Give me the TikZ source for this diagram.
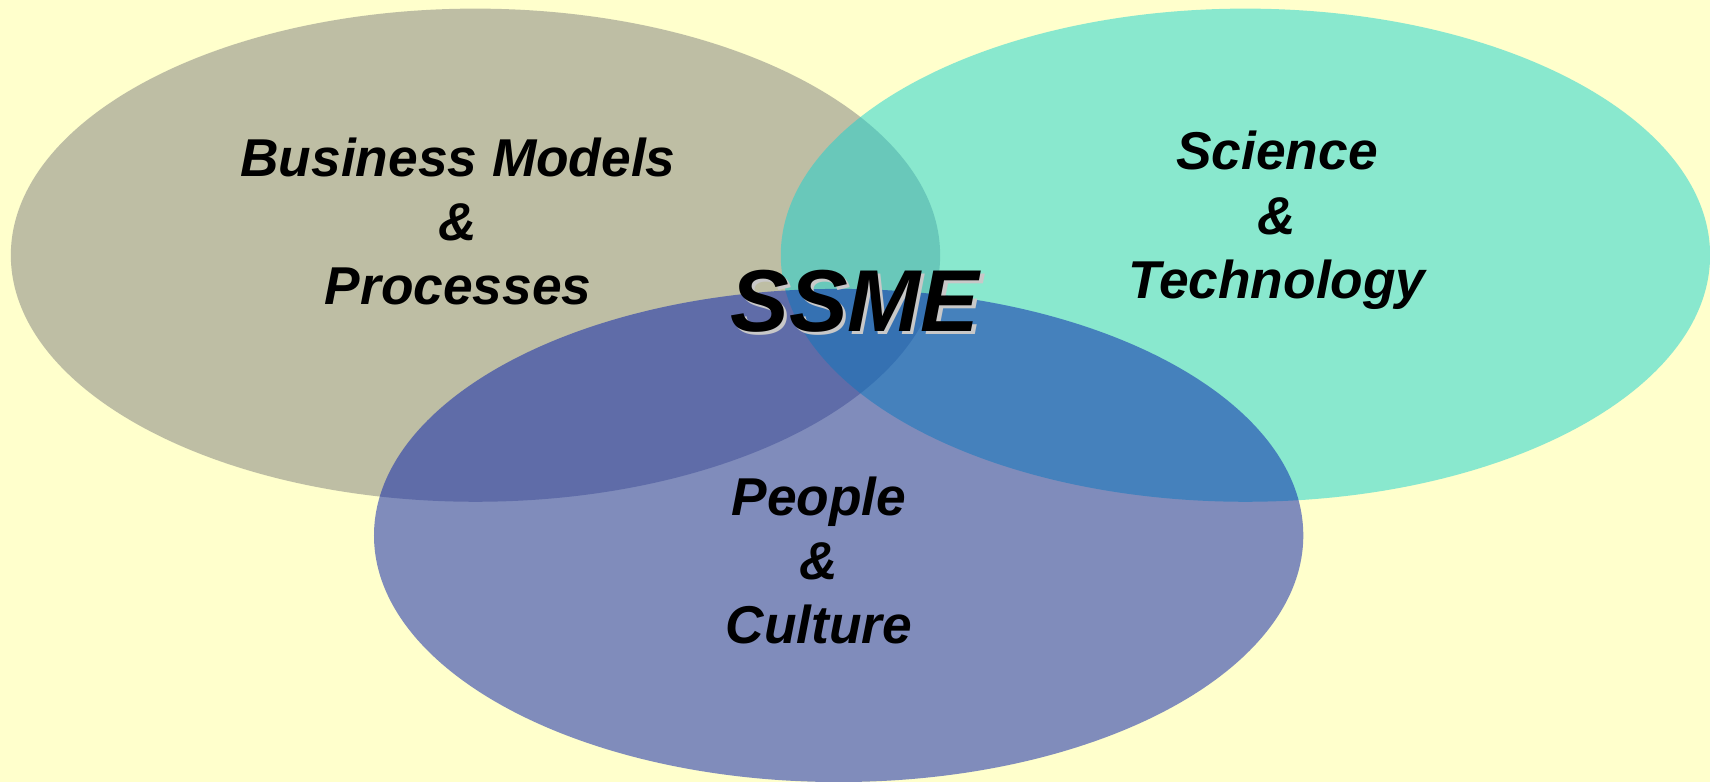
\documentclass[tikz,border=0pt]{standalone}
\usepackage{fontspec}
\setmainfont{Liberation Sans}
\usetikzlibrary{shapes.geometric,positioning}
\definecolor{paper}{RGB}{255,255,204}
\definecolor{business}{RGB}{127,127,126}
\definecolor{science}{RGB}{21,211,208}
\definecolor{people}{RGB}{2,27,172}
\definecolor{shade}{RGB}{200,200,200}
\tikzstyle{circle set} = [ellipse, draw=none, fill opacity=0.5, inner sep=0pt,
    minimum width=18.58cm, minimum height=9.86cm]
\tikzstyle{label} = [align=center, inner sep=0pt,
    font=\fontsize{30.3}{36.6}\selectfont\bfseries\itshape]
\tikzstyle{title} = [inner sep=0pt, font=\fontsize{50}{58}\selectfont\bfseries\itshape]

\begin{document}
\begin{tikzpicture}[x=0.021811cm, y=-0.021811cm]
        \fill [paper] (0,0) rectangle (1568,717);
        \useasboundingbox (0,0) rectangle (1568,717);

        \node [circle set, fill=business] (business) at (436,234) {};
        \node [circle set, fill=science] (science) at (1142,234) {};
        \node [circle set, fill=people] (people) at (769,491) {};

        \node [label] (bmp) at (420,203) {Business Models\\\&\\Processes};
        \node [label] (st) at (1171,202) {Science\\\&\\Technology};
        \node [label] (pc) at (751,514) {People\\\&\\Culture};

        \node [title, text=shade] (ssmeshadow) at (787,279) {SSME};
        \node [title] (ssme) at (784,276) {SSME};
    \end{tikzpicture}
\end{document}
